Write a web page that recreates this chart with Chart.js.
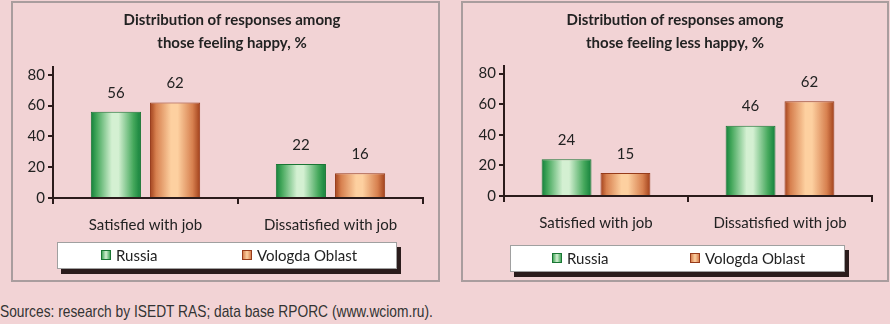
<!DOCTYPE html>
<html>
<head>
<meta charset="utf-8">
<script src="https://cdn.jsdelivr.net/npm/chart.js@4/dist/chart.umd.min.js"></script>
<style>
  html, body { margin:0; padding:0; }
  body { width:890px; height:324px; background:#f2d3d5; position:relative; overflow:hidden; font-family: Lato, "Open Sans", sans-serif; }
  .panel { position:absolute; box-sizing:border-box; border:2px solid #a99d9e; background:#f2d3d5; }
  canvas { position:absolute; }
  .title { position:absolute; font-weight:bold; font-size:15px; color:#222; text-align:center; line-height:23px; white-space:nowrap; transform:translateX(-50%); }
  .legend { position:absolute; box-sizing:border-box; background:#fff; border:1px solid #a0a0a0; box-shadow:4px 5px 0 #2b1c1c; height:27px; }
  .lg-item { position:absolute; top:0; height:25px; line-height:25px; font-size:15px; color:#222; white-space:nowrap; }
  .mk { position:absolute; width:10px; height:10px; box-sizing:border-box; top:7px; }
  .note { position:absolute; left:0; top:302px; font-family:"Liberation Sans", Arial, sans-serif; font-size:17px; color:#333; white-space:nowrap; transform-origin:left center; transform:scaleX(0.81); }
</style>
</head>
<body>
<div class="panel" style="left:11px;top:1px;width:429px;height:281px;"></div>
<div class="panel" style="left:461px;top:1px;width:428px;height:281px;"></div>
<canvas id="c1" width="426" height="276" style="left:13px;top:3px;width:426px;height:276px;"></canvas>
<canvas id="c2" width="424" height="276" style="left:463px;top:3px;width:424px;height:276px;"></canvas>
<div id="t1" class="title" style="left:232px;top:8px;"></div>
<div id="t2" class="title" style="left:675px;top:8px;"></div>
<div id="l1" class="legend" style="left:57px;top:242px;width:340px;"></div>
<div id="l2" class="legend" style="left:510px;top:245px;width:335px;"></div>
<div class="note">Sources: research by ISEDT RAS; data base RPORC (www.wciom.ru).</div>
<script>
// ---- data ----
const categories = ["Satisfied with job", "Dissatisfied with job"];
const seriesNames = ["Russia", "Vologda Oblast"];
const titleHappy = ["Distribution of responses among", "those feeling happy, %"];
const titleLessHappy = ["Distribution of responses among", "those feeling less happy, %"];
const happyRussia = [56, 22];
const happyVologda = [62, 16];
const lessHappyRussia = [24, 46];
const lessHappyVologda = [15, 62];
const yTicks = [0, 20, 40, 60, 80];

// ---- styles ----
const palettes = [
  { dark:'#12803a', mid:'#45a85c', light:'#d4f0d2', border:'#1a7634' },
  { dark:'#a03f1a', mid:'#d7804f', light:'#fdd0a0', border:'#973b1a' }
];

function barGradient(ctx, pal) {
  const chart = ctx.chart;
  const meta = chart.getDatasetMeta(ctx.datasetIndex);
  const el = meta.data[ctx.dataIndex];
  if (!el || el.x == null || !el.width) return pal.mid;
  const x0 = el.x - el.width / 2, x1 = el.x + el.width / 2;
  const g = chart.ctx.createLinearGradient(x0, 0, x1, 0);
  g.addColorStop(0, pal.dark);
  g.addColorStop(0.12, pal.mid);
  g.addColorStop(0.42, pal.light);
  g.addColorStop(0.55, pal.light);
  g.addColorStop(0.85, pal.mid);
  g.addColorStop(1, pal.dark);
  return g;
}

const valueLabels = {
  id: 'valueLabels',
  afterDatasetsDraw(chart) {
    const c = chart.ctx;
    c.save();
    c.font = '15px Lato, "Open Sans", sans-serif';
    c.fillStyle = '#222';
    c.textAlign = 'center';
    c.textBaseline = 'middle';
    chart.data.datasets.forEach((ds, di) => {
      chart.getDatasetMeta(di).data.forEach((el, i) => {
        c.fillText(String(ds.data[i]), el.x, el.y - 19);
      });
    });
    c.restore();
  }
};

function makeChart(id, a, b, geom) {
  const canvas = document.getElementById(id);
  const W = canvas.width, H = canvas.height;
  const axisColor = '#2b1b1b';
  const chart = new Chart(canvas, {
    type: 'bar',
    data: {
      labels: categories,
      datasets: [a, b].map((vals, k) => ({
        label: seriesNames[k],
        data: vals,
        backgroundColor: (ctx) => barGradient(ctx, palettes[k]),
        borderColor: palettes[k].border,
        borderWidth: 1,
        barPercentage: 0.847,
        categoryPercentage: 0.64
      }))
    },
    options: {
      responsive: false,
      animation: false,
      events: [],
      layout: { padding: { left: 0, top: geom.top, right: W - geom.right, bottom: 0 } },
      plugins: { legend: { display: false }, title: { display: false }, tooltip: { enabled: false } },
      scales: {
        x: {
          afterFit(s) { s.height = H - geom.bottom; },
          grid: { display: true, drawOnChartArea: false, drawTicks: true, tickLength: 6, color: axisColor, lineWidth: 2, offset: true },
          border: { display: true, color: axisColor, width: 2 },
          ticks: { color: '#222', font: { family: 'Lato, "Open Sans", sans-serif', size: 15 }, padding: 12, maxRotation: 0 }
        },
        y: {
          min: 0, max: geom.max,
          afterFit(s) { s.width = geom.left; },
          afterBuildTicks(s) { s.ticks = yTicks.map(v => ({ value: v })); },
          grid: { display: true, drawOnChartArea: false, drawTicks: true, tickLength: 5, color: axisColor, lineWidth: 2 },
          border: { display: true, color: axisColor, width: 2 },
          ticks: { color: '#222', font: { family: 'Lato, "Open Sans", sans-serif', size: 15 }, padding: 3 }
        }
      }
    },
    plugins: [valueLabels]
  });
  chart.update();
  return chart;
}

function fillTitle(id, lines) {
  document.getElementById(id).innerHTML = lines.map(s => '<div>' + s + '</div>').join('');
}
function fillLegend(id, offsets) {
  const box = document.getElementById(id);
  seriesNames.forEach((name, k) => {
    const pal = palettes[k];
    const it = document.createElement('div');
    it.className = 'lg-item';
    it.style.left = offsets[k] + 'px';
    const mk = document.createElement('div');
    mk.className = 'mk';
    mk.style.left = '0px';
    mk.style.border = '1px solid ' + pal.border;
    mk.style.background = 'linear-gradient(to right,' + pal.mid + ',' + pal.light + ' 50%,' + pal.mid + ')';
    const tx = document.createElement('span');
    tx.textContent = name;
    tx.style.marginLeft = '15px';
    it.appendChild(mk);
    it.appendChild(tx);
    box.appendChild(it);
  });
}

fillTitle('t1', titleHappy);
fillTitle('t2', titleLessHappy);
fillLegend('l1', [43, 184]);
fillLegend('l2', [41, 179]);

makeChart('c1', happyRussia, happyVologda, { left: 40, right: 410, top: 64, bottom: 195, max: 85 });
makeChart('c2', lessHappyRussia, lessHappyVologda, { left: 41, right: 409, top: 63, bottom: 193, max: 85 });
</script>
</body>
</html>
